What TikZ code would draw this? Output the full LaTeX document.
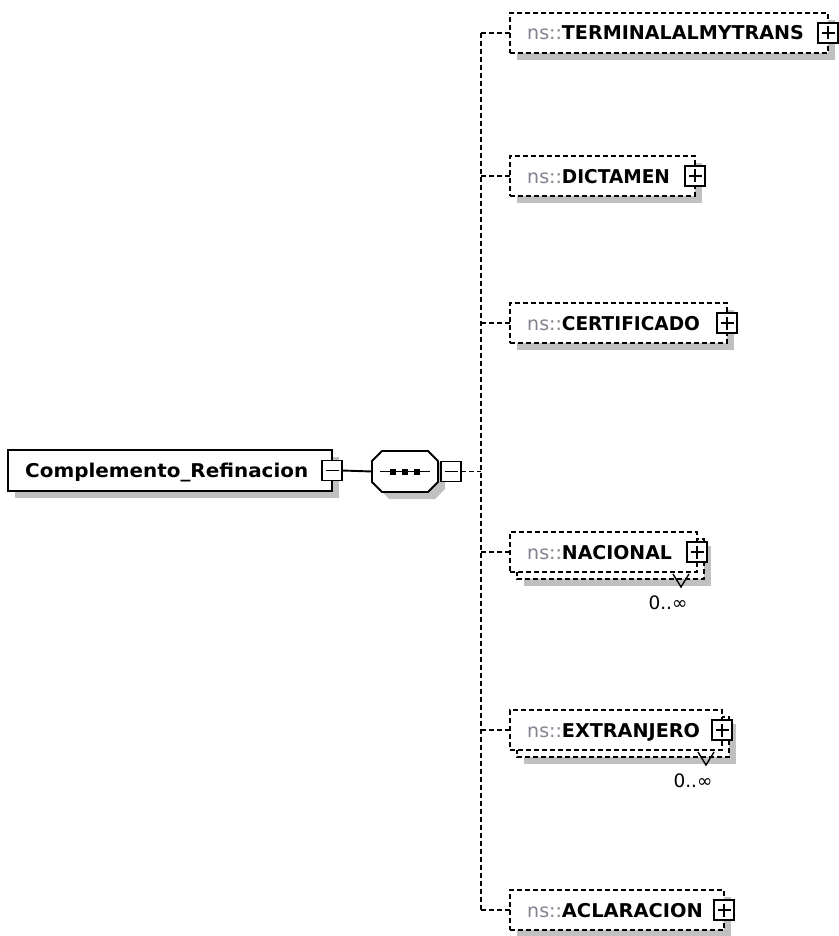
\documentclass[tikz,border=0pt]{standalone}
\usepackage{fontspec}
\setmainfont{DejaVu Sans}
\usepackage{graphicx}
\definecolor{nsgray}{RGB}{130,130,145}
\definecolor{shadowgray}{RGB}{192,192,192}
\tikzset{
  x=1pt, y=-1pt,
  shadowc/.style={fill=shadowgray},
  sbx/.style={draw=black, line width=1.9pt, fill=white, inner sep=0pt, outer sep=0pt, anchor=north west},
  dbx/.style={sbx, dash pattern=on 5pt off 3pt},
  backbox/.style={draw=black, line width=1.9pt, fill=white, dash pattern=on 5pt off 3pt},
  conn/.style={draw=black, line width=1.9pt, dash pattern=on 5pt off 3pt},
  solidconn/.style={draw=black, line width=1.9pt},
  btn/.style={draw=black, line width=1.9pt, fill=white, minimum width=20pt, minimum height=20pt, inner sep=0pt, outer sep=0pt},
  sign/.style={draw=black, line width=1.9pt},
  lbl/.style={anchor=base west, inner sep=0pt, font=\fontsize{19}{22}\selectfont},
  occ/.style={inner sep=0pt, font=\fontsize{18.5}{21}\selectfont},
}
% #1 id, #2 width, #3 top, #4 name, #5 name width
\newcommand\elemA[5]{%
  \fill[shadowc] (517,#3+7) rectangle (510+#2+7,#3+47);
  \node[dbx, minimum width=#2pt, minimum height=40pt] (#1) at (510,#3) {};
  \node[lbl] (#1-t) at (527,#3+27) {\textcolor{nsgray}{ns::}\resizebox{#5pt}{\height}{\bfseries #4}};
  \node[btn] (#1-b) at (#1.east) {};
  \draw[sign] ([xshift=-6.5pt]#1-b.center) -- ([xshift=6.5pt]#1-b.center)
              ([yshift=-6.5pt]#1-b.center) -- ([yshift=6.5pt]#1-b.center);
  \draw[conn] (bus |- #1.west) -- (#1.west);
}
\newcommand\elemM[5]{%
  \fill[shadowc] (524,#3+14) rectangle (510+#2+14,#3+54);
  \path[backbox] (517,#3+7) rectangle (510+#2+7,#3+47);
  \node[dbx, minimum width=#2pt, minimum height=40pt] (#1) at (510,#3) {};
  \node[lbl] (#1-t) at (527,#3+27) {\textcolor{nsgray}{ns::}\resizebox{#5pt}{\height}{\bfseries #4}};
  \node[btn] (#1-b) at (#1.east) {};
  \draw[sign] ([xshift=-6.5pt]#1-b.center) -- ([xshift=6.5pt]#1-b.center)
              ([yshift=-6.5pt]#1-b.center) -- ([yshift=6.5pt]#1-b.center);
  \draw[conn] (bus |- #1.west) -- (#1.west);
  \draw[line width=1.4pt] (510+#2-24,#3+42) -- (510+#2-16,#3+55) -- (510+#2-8,#3+42);
  \node[occ] (#1-o) at (510+#2-29,#3+71) {0..∞};
}
\begin{document}
\begin{tikzpicture}
\useasboundingbox (0,0) rectangle (838,936);
\fill[white] (0,0) rectangle (838,936);

% root element
\fill[shadowc] (15,457) rectangle (339,498);
\node[sbx, minimum width=324pt, minimum height=41pt] (root) at (8,450) {};
\node[lbl] (root-t) at (25,477.5) {\resizebox{283pt}{\height}{\bfseries Complemento\_Refinacion}};
\node[btn] (root-b) at (root.east) {};
\draw[sign] ([xshift=-6.5pt]root-b.center) -- ([xshift=6.5pt]root-b.center);

% sequence compositor
\fill[shadowc] (389,458) -- (435,458) -- (445,468) -- (445,489) -- (435,499) -- (389,499) -- (379,489) -- (379,468) -- cycle;
\node[minimum width=66pt, minimum height=41pt, inner sep=0pt, outer sep=0pt, anchor=north west] (seq) at (372,451) {};
\draw[line width=1.9pt, fill=white] (382,451) -- (428,451) -- (438,461) -- (438,482) -- (428,492) -- (382,492) -- (372,482) -- (372,461) -- cycle;
\draw[line width=1.9pt] ([xshift=-25pt]seq.center) -- ([xshift=25pt]seq.center);
\foreach \dx in {-12,0,12} \fill ([xshift=\dx pt]seq.center) ++(-3,-3) rectangle ++(6,6);
\node[btn] (seq-b) at ([xshift=13pt]seq.east) {};
\draw[sign] ([xshift=-6.5pt]seq-b.center) -- ([xshift=6.5pt]seq-b.center);
\draw[solidconn] (root-b.east) -- (seq.west);

\coordinate (bus) at (481,471.5);
\draw[conn] (seq-b.east) -- (bus);

% children
\elemA{term}{318}{13}{TERMINALALMYTRANS}{242}
\elemA{dict}{185}{156}{DICTAMEN}{108}
\elemA{cert}{217}{303}{CERTIFICADO}{138}
\elemM{naci}{187}{532}{NACIONAL}{110}
\elemM{extr}{212}{710}{EXTRANJERO}{138}
\elemA{acla}{214}{890}{ACLARACION}{141}

\draw[conn] (bus |- term.west) -- (bus |- acla.west);
\end{tikzpicture}
\end{document}
